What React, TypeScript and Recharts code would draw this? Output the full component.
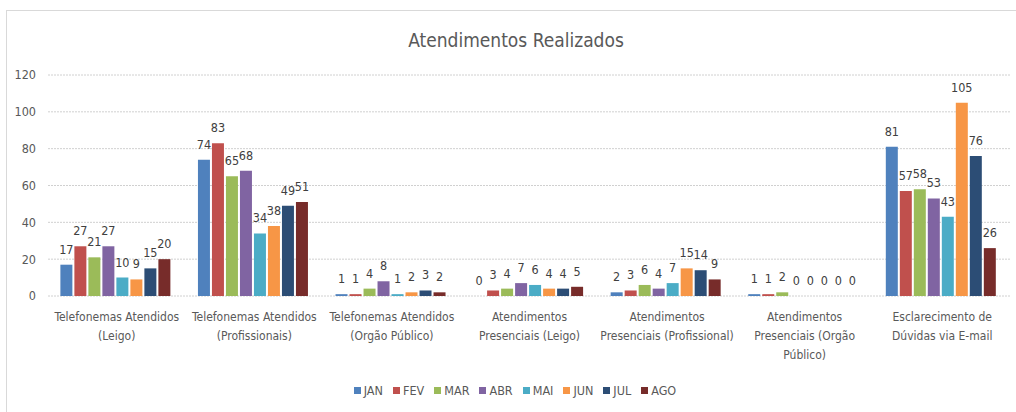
import React from 'react';
import {
  BarChart,
  Bar,
  XAxis,
  YAxis,
  CartesianGrid,
  LabelList,
} from 'recharts';

// categorias (quebras de linha como no original)
const categories = [
  'Telefonemas Atendidos\n(Leigo)',
  'Telefonemas Atendidos\n(Profissionais)',
  'Telefonemas Atendidos\n(Orgão Público)',
  'Atendimentos\nPresenciais (Leigo)',
  'Atendimentos\nPresenciais (Profissional)',
  'Atendimentos\nPresenciais (Orgão\nPúblico)',
  'Esclarecimento de\nDúvidas via E-mail',
];

const jan = [17, 74, 1, 0, 2, 1, 81];
const fev = [27, 83, 1, 3, 3, 1, 57];
const mar = [21, 65, 4, 4, 6, 2, 58];
const abr = [27, 68, 8, 7, 4, 0, 53];
const mai = [10, 34, 1, 6, 7, 0, 43];
const jun = [9, 38, 2, 4, 15, 0, 105];
const jul = [15, 49, 3, 4, 14, 0, 76];
const ago = [20, 51, 2, 5, 9, 0, 26];

const yTicks = [0, 20, 40, 60, 80, 100, 120];

const series = [
  { key: 'JAN', values: jan, color: '#4F81BD' },
  { key: 'FEV', values: fev, color: '#C0504D' },
  { key: 'MAR', values: mar, color: '#9BBB59' },
  { key: 'ABR', values: abr, color: '#8064A2' },
  { key: 'MAI', values: mai, color: '#4BACC6' },
  { key: 'JUN', values: jun, color: '#F79646' },
  { key: 'JUL', values: jul, color: '#2C4D75' },
  { key: 'AGO', values: ago, color: '#772C2A' },
];

const chartData = categories.map((name, i) => {
  const row: any = { name };
  series.forEach(s => { row[s.key] = s.values[i]; });
  return row;
});

const FONT = '"DejaVu Sans Condensed", "Liberation Sans", sans-serif';
const TEXT = '#595959';

const CategoryTick = ({ x, y, payload }: any) => {
  const lines = String(payload.value).split('\n');
  return (
    <text x={x} y={y} textAnchor="middle" fill={TEXT} fontSize={12} fontFamily={FONT}>
      {lines.map((line, i) => (
        <tspan key={i} x={x} dy={i === 0 ? 17 : 19}>{line}</tspan>
      ))}
    </text>
  );
};

// zeros ainda precisam do rótulo "0"
const zeroSize = (value: any) => (value === 0 ? 0.01 : 0);

const App = () => {
  return (
    <div style={{ position: 'absolute', left: 0, top: 0, width: 1016, height: 412, background: '#fff', overflow: 'hidden' }}>
      {/* moldura do gráfico */}
      <div style={{ position: 'absolute', left: 6, top: 10, width: 1020, height: 420, border: '1px solid #d9d9d9' }} />
      <div
        style={{
          position: 'absolute', left: 0, width: 1032, top: 29, textAlign: 'center',
          fontFamily: FONT, fontSize: 19, color: TEXT,
        }}
      >
        Atendimentos Realizados
      </div>
      <div style={{ position: 'absolute', left: 0, top: 0 }}>
        <BarChart
          width={1016}
          height={412}
          data={chartData}
          margin={{ top: 75, right: 5, bottom: 0, left: 0 }}
          barCategoryGap="9%"
          barGap={2}
        >
          <CartesianGrid vertical={false} stroke="#d0d0d0" strokeDasharray="2 1" />
          <XAxis
            dataKey="name"
            axisLine={false}
            tickLine={false}
            interval={0}
            height={116}
            tick={<CategoryTick />}
          />
          <YAxis
            width={48}
            domain={[0, 120]}
            ticks={yTicks}
            axisLine={false}
            tickLine={false}
            tickMargin={6}
            tick={{ fill: TEXT, fontSize: 12.5, fontFamily: FONT }}
          />
          {series.map(s => (
            <Bar key={s.key} dataKey={s.key} fill={s.color} minPointSize={zeroSize} isAnimationActive={false}>
              <LabelList dataKey={s.key} position="top" offset={11} fill="#404040" fontSize={12.5} fontFamily={FONT} />
            </Bar>
          ))}
        </BarChart>
      </div>
      {/* legenda */}
      <div
        style={{
          position: 'absolute', left: 0, width: 1040, top: 383, display: 'flex', justifyContent: 'center',
          fontFamily: FONT, fontSize: 12.5, color: TEXT,
        }}
      >
        {series.map(s => (
          <div key={s.key} style={{ display: 'flex', alignItems: 'center', marginRight: 10 }}>
            <span style={{ width: 7, height: 7, background: s.color, marginRight: 3, display: 'inline-block' }} />
            <span>{s.key}</span>
          </div>
        ))}
      </div>
    </div>
  );
};

export default App;
